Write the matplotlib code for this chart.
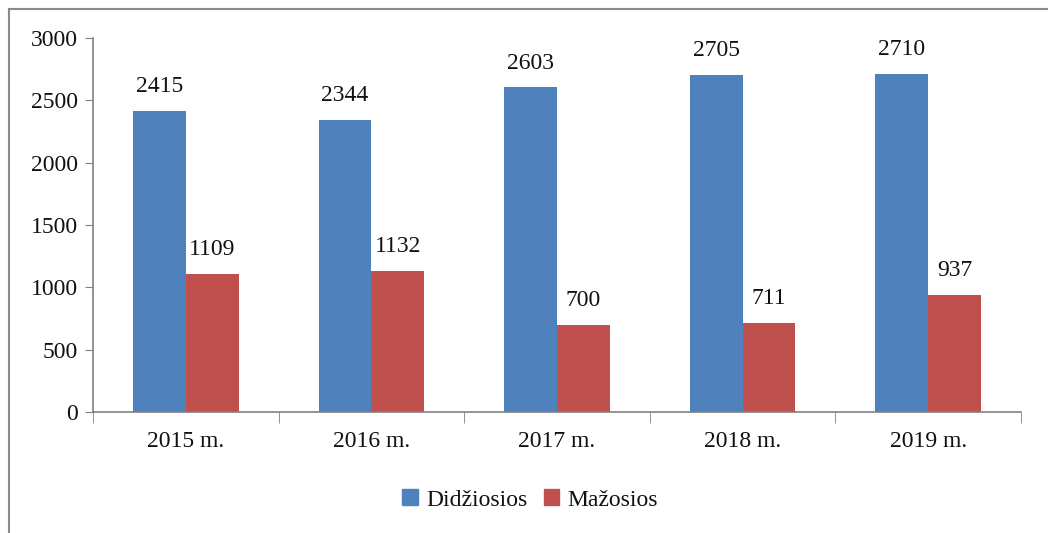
import matplotlib
matplotlib.use("Agg")
import matplotlib.pyplot as plt
from matplotlib.lines import Line2D
import numpy as np

categories = ["2015 m.", "2016 m.", "2017 m.", "2018 m.", "2019 m."]
didziosios = [2415, 2344, 2603, 2705, 2710]
mazosios = [1109, 1132, 700, 711, 937]
series_names = ["Didžiosios", "Mažosios"]
colors = ["#4F81BD", "#C0504D"]

plt.rcParams['font.family'] = ['Liberation Serif', 'DejaVu Serif']

W, H = 1048, 533
fig = plt.figure(figsize=(W/100, H/100), dpi=100)
ax = fig.add_axes([93/W, (H-412)/H, (1021-93)/W, (412-38)/H])

x = np.arange(len(categories))
bw = 0.285
b1 = ax.bar(x - bw/2, didziosios, bw, color=colors[0], label=series_names[0])
b2 = ax.bar(x + bw/2, mazosios, bw, color=colors[1], label=series_names[1])

FS = 17
for bars, vals in ((b1, didziosios), (b2, mazosios)):
    for r, v in zip(bars, vals):
        ax.annotate(str(v), (r.get_x() + r.get_width()/2, v),
                    xytext=(0, 10), textcoords="offset points",
                    ha="center", va="bottom", fontsize=FS, color="#111111")

ax.set_xlim(-0.5, len(categories) - 0.5)
ax.set_ylim(0, 3000)
ax.set_yticks(np.arange(0, 3001, 500))
ax.set_xticks(x)
ax.set_xticklabels(categories, fontsize=FS)
ax.tick_params(axis='y', labelsize=FS, length=6, color="#808080", pad=5, direction='out', labelcolor="#111111")
ax.tick_params(axis='x', length=0, pad=14, labelcolor="#111111")
ax.set_xticks(np.arange(-0.5, len(categories)), minor=True)
ax.tick_params(axis='x', which='minor', length=8, color="#808080", direction='out')

for s in ("top", "right"):
    ax.spines[s].set_visible(False)
for s in ("left", "bottom"):
    ax.spines[s].set_color("#808080")
    ax.spines[s].set_linewidth(1.2)

leg = fig.legend(handles=[plt.Rectangle((0, 0), 1, 1, color=c) for c in colors],
                 labels=series_names, loc="center", bbox_to_anchor=(530/W, 1 - 500/H),
                 ncol=2, frameon=False, fontsize=FS, handlelength=0.65, handleheight=0.65,
                 handletextpad=0.35, columnspacing=0.7)
for t in leg.get_texts():
    t.set_color("#111111")

fig.add_artist(Line2D([9/W, 1], [1 - 9/H, 1 - 9/H], color="#8a8a8a", lw=1.5, transform=fig.transFigure))
fig.add_artist(Line2D([9/W, 9/W], [0, 1 - 9/H], color="#8a8a8a", lw=1.5, transform=fig.transFigure))

fig.savefig("out.png", dpi=100)
